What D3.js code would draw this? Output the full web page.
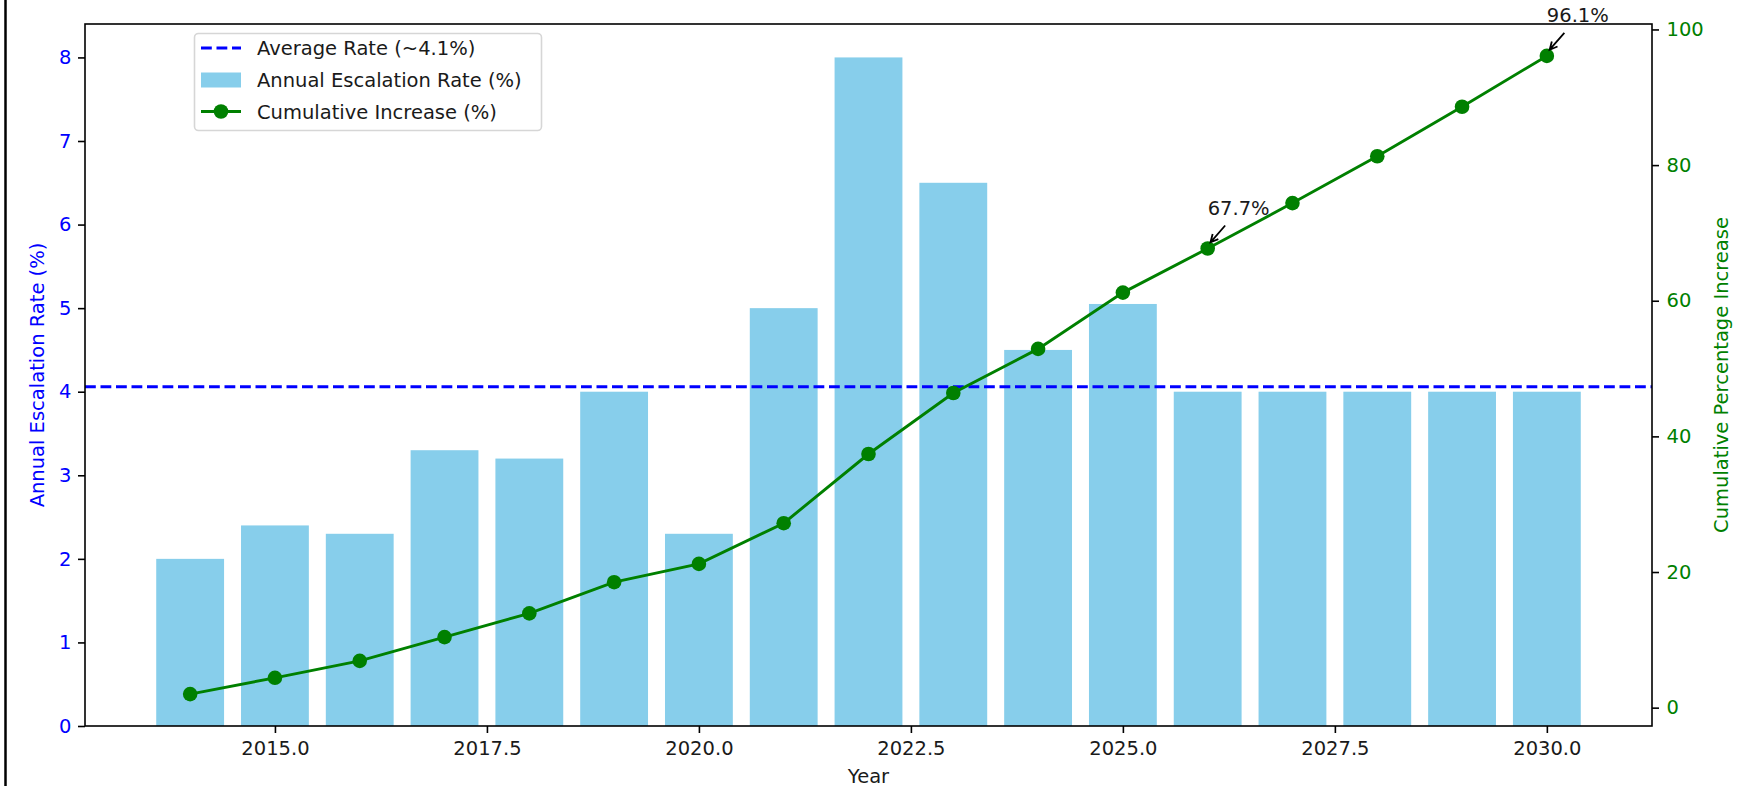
<!DOCTYPE html>
<html>
<head>
<meta charset="utf-8">
<script src="https://cdn.jsdelivr.net/npm/d3@7"></script>
<style>
  body { margin: 0; background: #fff; }
  svg { display: block; font-family: "DejaVu Sans", sans-serif; }
</style>
</head>
<body>
<div class="canvas"></div>
<script>
// data
const years = [2014, 2015, 2016, 2017, 2018, 2019, 2020, 2021, 2022, 2023, 2024, 2025, 2026, 2027, 2028, 2029, 2030];
const annualRate = [2.0, 2.4, 2.3, 3.3, 3.2, 4.0, 2.3, 5.0, 8.0, 6.5, 4.5, 5.05, 4.0, 4.0, 4.0, 4.0, 4.0];
const cumulativeIncrease = [2.0, 4.4, 6.9, 10.4, 13.9, 18.5, 21.2, 27.2, 37.4, 46.4, 52.9, 61.2, 67.7, 74.4, 81.3, 88.6, 96.1];
const averageRate = 4.06;
const xTicks = [2015, 2017.5, 2020, 2022.5, 2025, 2027.5, 2030];
const leftTicks = [0, 1, 2, 3, 4, 5, 6, 7, 8];
const rightTicks = [0, 20, 40, 60, 80, 100];
const callouts = [
    {year: 2026, value: 67.7, label: '67.7%'},
    {year: 2030, value: 96.1, label: '96.1%'}
];
const legendLabels = ['Average Rate (~4.1%)', 'Annual Escalation Rate (%)', 'Cumulative Increase (%)'];

const width = 1741;
const height = 786;
const margin = {top: 24, right: 89, bottom: 60, left: 85};
const graphWidth = width - margin.left - margin.right;
const graphHeight = height - margin.top - margin.bottom;
const fontSize = 19.5;
const barColor = '#87CEEB';
const lineColor = '#008000';

const svg = d3.select('.canvas')
    .append('svg')
        .attr('width', width)
        .attr('height', height);

// frame edge on the left of the figure
svg.append('line')
    .attr('x1', 5.5).attr('x2', 5.5)
    .attr('y1', 0).attr('y2', height)
    .attr('stroke', '#000')
    .attr('stroke-width', 2.5);

const graph = svg.append('g')
    .attr('transform', `translate(${margin.left}, ${margin.top})`);

// scales, with matplotlib style 5% margins
const halfBar = 0.4;
const xLo = d3.min(years) - halfBar;
const xHi = d3.max(years) + halfBar;
const xPad = (xHi - xLo) * 0.05;
const x = d3.scaleLinear()
    .domain([xLo - xPad, xHi + xPad])
    .range([0, graphWidth]);

const y = d3.scaleLinear()
    .domain([0, d3.max(annualRate) * 1.05])
    .range([graphHeight, 0]);

const [cLo, cHi] = d3.extent(cumulativeIncrease);
const cPad = (cHi - cLo) * 0.05;
const y2 = d3.scaleLinear()
    .domain([cLo - cPad, cHi + cPad])
    .range([graphHeight, 0]);

// bars
graph.selectAll('rect.bar')
    .data(years)
    .enter()
    .append('rect')
        .attr('class', 'bar')
        .attr('x', d => x(d - halfBar))
        .attr('width', d => x(d + halfBar) - x(d - halfBar))
        .attr('y', (d, i) => y(annualRate[i]))
        .attr('height', (d, i) => graphHeight - y(annualRate[i]))
        .attr('fill', barColor);

// average line
graph.append('line')
    .attr('x1', 0).attr('x2', graphWidth)
    .attr('y1', y(averageRate)).attr('y2', y(averageRate))
    .attr('stroke', 'blue')
    .attr('stroke-width', 2.9)
    .attr('stroke-dasharray', '10.8,4.7');

// cumulative line + markers
const line = d3.line()
    .x((d, i) => x(years[i]))
    .y(d => y2(d));

graph.append('path')
    .datum(cumulativeIncrease)
    .attr('d', line)
    .attr('fill', 'none')
    .attr('stroke', lineColor)
    .attr('stroke-width', 2.9);

graph.selectAll('circle.pt')
    .data(cumulativeIncrease)
    .enter()
    .append('circle')
        .attr('class', 'pt')
        .attr('cx', (d, i) => x(years[i]))
        .attr('cy', d => y2(d))
        .attr('r', 7.3)
        .attr('fill', lineColor);

// callouts with little arrows
callouts.forEach(c => {
    const px = x(c.year);
    const py = y2(c.value);
    graph.append('text')
        .attr('x', px)
        .attr('y', y2(c.value + 5))
        .attr('font-size', fontSize)
        .attr('fill', '#1a1a1a')
        .text(c.label);

    const x0 = px + 17.5, y0 = py - 23;
    const x1 = px + 2.8, y1 = py - 6.2;
    const ang = Math.atan2(y1 - y0, x1 - x0);
    const hl = 8.5, spread = 0.46;
    const hx1 = x1 - hl * Math.cos(ang - spread), hy1 = y1 - hl * Math.sin(ang - spread);
    const hx2 = x1 - hl * Math.cos(ang + spread), hy2 = y1 - hl * Math.sin(ang + spread);
    graph.append('path')
        .attr('d', `M${x0},${y0}L${x1},${y1}M${hx1},${hy1}L${x1},${y1}L${hx2},${hy2}`)
        .attr('fill', 'none')
        .attr('stroke', '#000')
        .attr('stroke-width', 1.8);
});

// axes
const tickLen = 7;
const xAxis = d3.axisBottom(x)
    .tickValues(xTicks)
    .tickFormat(d3.format('.1f'))
    .tickSize(tickLen)
    .tickPadding(8);
const yAxis = d3.axisLeft(y)
    .tickValues(leftTicks)
    .tickFormat(d3.format('d'))
    .tickSize(tickLen)
    .tickPadding(6.5);
const y2Axis = d3.axisRight(y2)
    .tickValues(rightTicks)
    .tickFormat(d3.format('d'))
    .tickSize(tickLen)
    .tickPadding(7.5);

const xGroup = graph.append('g')
    .attr('transform', `translate(0, ${graphHeight})`)
    .call(xAxis);
const yGroup = graph.append('g').call(yAxis);
const y2Group = graph.append('g')
    .attr('transform', `translate(${graphWidth}, 0)`)
    .call(y2Axis);

[[xGroup, '#1a1a1a'], [yGroup, 'blue'], [y2Group, lineColor]].forEach(([g, col]) => {
    g.attr('font-family', '"DejaVu Sans", sans-serif').attr('font-size', fontSize);
    g.select('.domain').remove();
    g.selectAll('.tick line').attr('stroke', '#000').attr('stroke-width', 1.6);
    g.selectAll('.tick text').attr('fill', col);
});

// spines
graph.append('rect')
    .attr('x', 0).attr('y', 0)
    .attr('width', graphWidth).attr('height', graphHeight)
    .attr('fill', 'none')
    .attr('stroke', '#000')
    .attr('stroke-width', 1.6);

// axis labels
svg.append('text')
    .attr('x', margin.left + graphWidth / 2)
    .attr('y', 782.5)
    .attr('text-anchor', 'middle')
    .attr('font-size', fontSize)
    .attr('fill', '#1a1a1a')
    .text('Year');

svg.append('text')
    .attr('transform', `translate(44, ${margin.top + graphHeight / 2}) rotate(-90)`)
    .attr('text-anchor', 'middle')
    .attr('font-size', fontSize)
    .attr('fill', 'blue')
    .text('Annual Escalation Rate (%)');

svg.append('text')
    .attr('transform', `translate(1727.5, ${margin.top + graphHeight / 2}) rotate(-90)`)
    .attr('text-anchor', 'middle')
    .attr('font-size', fontSize)
    .attr('fill', lineColor)
    .text('Cumulative Percentage Increase');

// legend
const legend = svg.append('g').attr('transform', 'translate(194, 33)');
legend.append('rect')
    .attr('x', 0.5).attr('y', 0.5)
    .attr('width', 347).attr('height', 97)
    .attr('rx', 4)
    .attr('fill', '#fff')
    .attr('stroke', '#d6d6d6')
    .attr('stroke-width', 1.6);

const rowMid = [15, 47, 78.5];
legend.append('line')
    .attr('x1', 7).attr('x2', 47)
    .attr('y1', rowMid[0]).attr('y2', rowMid[0])
    .attr('stroke', 'blue')
    .attr('stroke-width', 2.9)
    .attr('stroke-dasharray', '10.8,4.7');
legend.append('rect')
    .attr('x', 7).attr('y', rowMid[1] - 7.5)
    .attr('width', 40).attr('height', 15)
    .attr('fill', barColor);
legend.append('line')
    .attr('x1', 7).attr('x2', 47)
    .attr('y1', rowMid[2]).attr('y2', rowMid[2])
    .attr('stroke', lineColor)
    .attr('stroke-width', 2.9);
legend.append('circle')
    .attr('cx', 27).attr('cy', rowMid[2])
    .attr('r', 7.3)
    .attr('fill', lineColor);

legend.selectAll('text')
    .data(legendLabels)
    .enter()
    .append('text')
        .attr('x', 63)
        .attr('y', (d, i) => rowMid[i] + 7)
        .attr('font-size', fontSize)
        .attr('fill', '#1a1a1a')
        .text(d => d);
</script>
</body>
</html>
